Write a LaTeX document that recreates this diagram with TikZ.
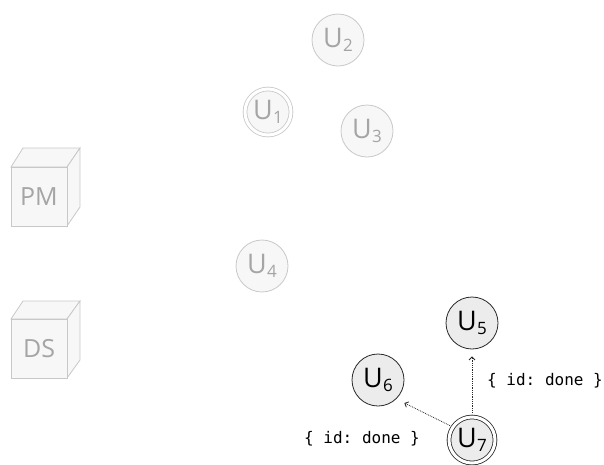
\documentclass[tikz,border=0pt]{standalone}
\usepackage{fontspec}
\setmainfont{Open Sans}
\setmonofont{DejaVu Sans Mono}
\usetikzlibrary{arrows.meta,positioning}
\definecolor{usrline}{RGB}{200,200,200}
\definecolor{usrfill}{RGB}{247,247,247}
\definecolor{usrtext}{RGB}{165,165,165}
\definecolor{actline}{RGB}{40,40,40}
\definecolor{actfill}{RGB}{236,236,236}
\newcommand\uname[1]{U\kern.5pt\raisebox{-4.5pt}{\fontsize{17}{17}\selectfont#1}}

\tikzset{
  user/.style={circle,draw=usrline,fill=usrfill,text=usrtext,line width=.8pt,
    minimum size=52pt,inner sep=0pt,font=\fontsize{27}{27}\selectfont},
  active/.style={user,draw=actline,fill=actfill,text=black},
  home/.style={double=white,double distance=3pt,minimum size=46pt},
  store/.style={text=usrtext,font=\fontsize{25}{25}\selectfont},
  msg/.style={densely dotted,line width=.8pt,draw=actline,-{Straight Barb[length=3pt,width=6pt]}},
  note/.style={text=black,font=\ttfamily\fontsize{16}{16}\selectfont}
}

\begin{document}
\begin{tikzpicture}[x=1pt,y=-1pt]
  \useasboundingbox (0,0) rectangle (604,464);
  % stores
  \draw[draw=usrline,fill=usrfill,line width=.8pt] (11,167) -- (23,148) -- (80,148) -- (67,167) -- cycle;
  \draw[draw=usrline,fill=usrfill,line width=.8pt] (67,167) -- (80,148) -- (80,207) -- (67,226) -- cycle;
  \draw[draw=usrline,fill=usrfill,line width=.8pt] (11,167) rectangle (67,226);
  \node[store] (pm) at (39,197) {PM};
  \draw[draw=usrline,fill=usrfill,line width=.8pt] (11,319) -- (23,301) -- (80,301) -- (67,319) -- cycle;
  \draw[draw=usrline,fill=usrfill,line width=.8pt] (67,319) -- (80,301) -- (80,360) -- (67,378) -- cycle;
  \draw[draw=usrline,fill=usrfill,line width=.8pt] (11,319) rectangle (67,378);
  \node[store] (ds) at (39,349) {DS};
  % users
  \node[user,home] (u1) at (268,112) {\uname{1}};
  \node[user] (u2) at (338,40) {\uname{2}};
  \node[user] (u3) at (367,131) {\uname{3}};
  \node[user] (u4) at (262,266) {\uname{4}};
  \node[active] (u5) at (472,323) {\uname{5}};
  \node[active] (u6) at (378,380) {\uname{6}};
  \node[active,home] (u7) at (472,440) {\uname{7}};
  % messages
  \draw[msg,shorten <=4pt,shorten >=7pt] (u7) -- (u5);
  \draw[msg,shorten <=3pt,shorten >=9pt] (u7.146) -- (u6.-46);
  \node[note] (m5) at (545,381) {\{ id: done \}};
  \node[note] (m6) at (362,439) {\{ id: done \}};
\end{tikzpicture}
\end{document}
